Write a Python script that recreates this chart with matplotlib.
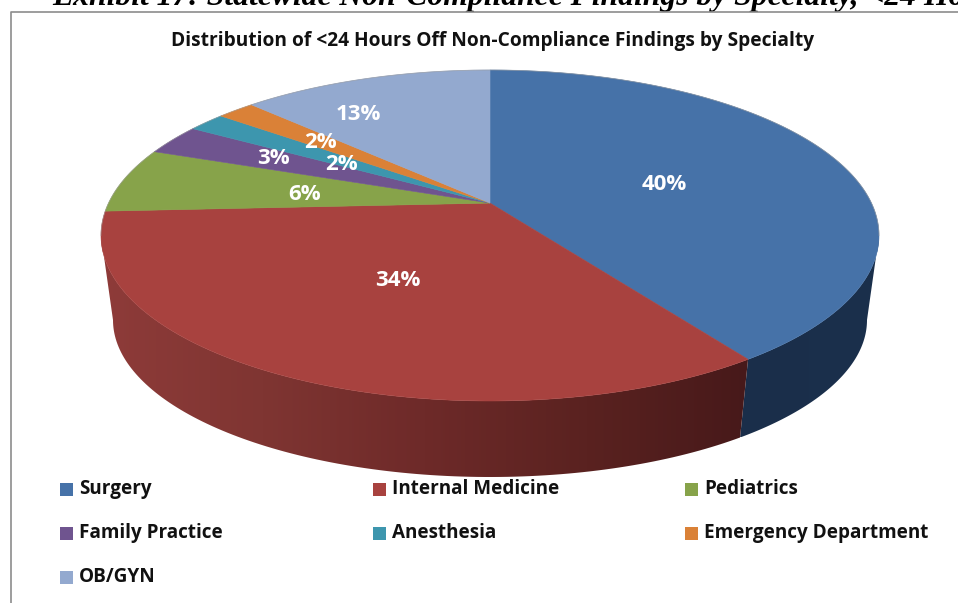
import numpy as np
import matplotlib
matplotlib.use("Agg")
import matplotlib.pyplot as plt
from matplotlib.colors import LinearSegmentedColormap
from matplotlib.patches import Polygon

categories = ["Surgery", "Internal Medicine", "Pediatrics", "Family Practice",
              "Anesthesia", "Emergency Department", "OB/GYN"]
values = [40.4, 33.8, 6.4, 3.0, 1.9, 1.9, 12.6]
colors = ["#4672A8", "#A8423F", "#87A34A", "#6F548F", "#3D96AE", "#DA8137", "#93A9CF"]
title = "Distribution of <24 Hours Off Non-Compliance Findings by Specialty"
exhibit = "Exhibit 17: Statewide Non-Compliance Findings by Specialty, <24 Hours"

# ellipses of the pie top and of the lower rim, in pixels
cx = 490
top_rim = (389, 235.5, 165.5)
low_rim = (377, 320, 157)
apex_k = -0.196   # perspective shift, moves the apex up from the ellipse centre


def project(frac, rim=top_rim):
    # fraction of the pie (clockwise from 12 o'clock) -> pixel position
    rx, cy, ry = rim
    a = 2 * np.pi * np.asarray(frac)
    u, v = np.sin(a), -np.cos(a)
    den = 1 + apex_k * v
    return cx + rx * u * np.sqrt(1 - apex_k**2) / den, cy + ry * (v + apex_k) / den


plt.rcParams["font.family"] = ["Open Sans", "DejaVu Sans"]

fig = plt.figure(figsize=(9.58, 6.03), dpi=100)
ax = fig.add_axes([0, 0, 1, 1])
ax.set_xlim(0, 958)
ax.set_ylim(603, 0)
ax.axis("off")

edges = np.cumsum([0] + values) / sum(values)

# where the ellipse is widest, the wall starts and ends there
side_lo = np.arccos(apex_k) / (2 * np.pi)
side_hi = 1 - side_lo

# side wall
gradient = np.linspace(0, 1, 256).reshape(1, -1)
red_side = LinearSegmentedColormap.from_list(
    "red_side", ["#8E3B39", "#7F3532", "#6E2A29", "#5A2220", "#47191A"])
blue_side = LinearSegmentedColormap.from_list("blue_side", ["#1A2E4A", "#1B304C"])

for lo, hi, cmap in [(side_lo, edges[1], blue_side), (edges[1], side_hi, red_side)]:
    f = np.linspace(lo, hi, 120)
    x, y = project(f)
    x2, y2 = project(f, low_rim)
    px = np.r_[x, x2[::-1]]
    py = np.r_[y, y2[::-1]]
    wall = Polygon(np.c_[px, py], closed=True, fc="none", ec="none")
    ax.add_patch(wall)
    im = ax.imshow(gradient, cmap=cmap, aspect="auto", zorder=1,
                   extent=[px.min(), px.max(), py.max(), py.min()])
    im.set_clip_path(wall)

ax.set_xlim(0, 958)
ax.set_ylim(603, 0)

# top face
apex_y = top_rim[1] + top_rim[2] * apex_k
for i, c in enumerate(colors):
    x, y = project(np.linspace(edges[i], edges[i + 1], 150))
    ax.add_patch(Polygon(np.c_[np.r_[cx, x], np.r_[apex_y, y]], closed=True,
                         fc=c, ec=c, lw=0.4, zorder=2))

# faint grey rim along the back only
x, y = project(np.linspace(side_hi, 1 + side_lo, 300))
ax.plot(x, y, color="#9a9a9a", lw=0.6, alpha=0.6, zorder=3)

# percent labels
label_pos = [(664, 184), (398, 281), (305, 195), (273, 158), (341, 164), (320, 142), (358, 114)]
for val, (lx, ly) in zip(values, label_pos):
    ax.text(lx, ly, f"{val:.0f}%", color="white", fontsize=16, fontweight="bold",
            ha="center", va="center", zorder=4)

# frame and headings
ax.plot([11, 11, 958], [603, 12, 12], color="#8c8c8c", lw=1.2, zorder=5)
ax.text(493, 41, title, fontsize=13.8, fontweight="bold", ha="center", va="center", color="#111111")
ax.text(52, 5, exhibit, fontsize=22.8, fontweight="bold", fontstyle="italic",
        family="Liberation Serif", ha="left", va="baseline", color="black")

# legend laid out by hand, three columns
col_x = [60, 373, 685]
row_y = [489, 533, 577]
for i, (name, c) in enumerate(zip(categories, colors)):
    lx, ly = col_x[i % 3], row_y[i // 3]
    ax.add_patch(Polygon([(lx, ly - 6.5), (lx + 13, ly - 6.5), (lx + 13, ly + 6.5), (lx, ly + 6.5)],
                         closed=True, fc=c, ec="none"))
    ax.text(lx + 19, ly, name, fontsize=13.6, fontweight="bold", ha="left", va="center",
            color="#111111")

fig.savefig("out.png", dpi=100)
